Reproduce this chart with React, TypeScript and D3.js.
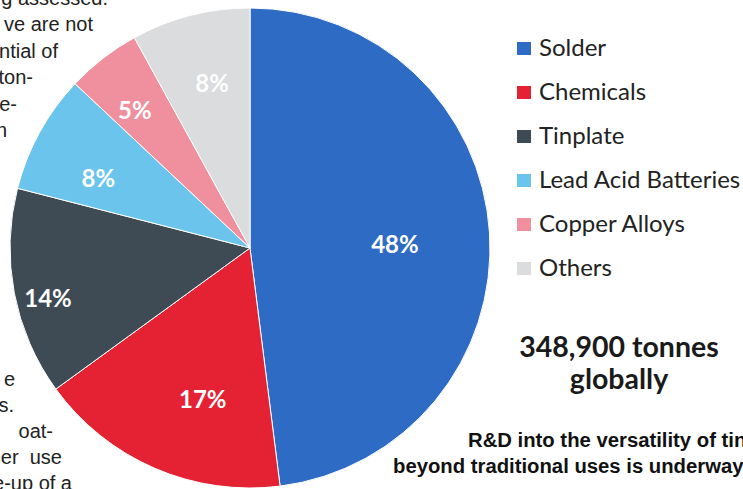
import React from "react";
import * as d3 from "d3";

const categories = ["Solder", "Chemicals", "Tinplate", "Lead Acid Batteries", "Copper Alloys", "Others"];
const shares = [48, 17, 14, 8, 5, 8];
const colors = ["#2D6BC5", "#E42233", "#3E4A54", "#6AC4EC", "#F0909E", "#DADCDD"];
// label placement tweaks (radius px, angle offset in degrees)
const labelRadius = [145, 158, 208, 167, 180, 170];
const labelAngleOffset = [2, -6, -3, -4, -2, 1.5];

const totalLines = ["348,900 tonnes", "globally"];
const footLines = ["R&D into the versatility of tin", "beyond traditional uses is underway"];
const leftTopLines = ["g assessed.", "ve are not", "ntial of", "ton-", "e-", "n"];
const leftBottomLines = ["e", "s.", "oat-", "er  use", "e-up of a"];
const leftTopEnds = [108, 93, 58, 33, 17, 7];
const leftBottomEnds = [15, 14, 53, 62, 72];

const W = 743;
const H = 489;

export default function App() {
  const cx = 250;
  const cy = 248;
  const r = 240;
  const pie = d3.pie<number>().value((d) => d).sort(null);
  const arcs = pie(shares);
  const arc = d3.arc<d3.PieArcDatum<number>>().innerRadius(0).outerRadius(r);

  const legendY = d3.scaleLinear().domain([0, categories.length - 1]).range([56, 276]);

  return (
    <svg
      width={W}
      height={H}
      style={{ position: "absolute", left: 0, top: 0, background: "#fff" }}
    >
      <rect width={W} height={H} fill="#fff" />
      {/* surrounding article text fragments */}
      <g fontFamily="'Liberation Sans', Arial, sans-serif" fontSize={20} fill="#222">
        {leftTopLines.map((t, i) => (
          <text key={"lt" + i} x={leftTopEnds[i]} y={5 + i * 26.4} textAnchor="end" style={{ whiteSpace: "pre" }}>
            {t}
          </text>
        ))}
        {leftBottomLines.map((t, i) => (
          <text key={"lb" + i} x={leftBottomEnds[i]} y={386 + i * 26} textAnchor="end" style={{ whiteSpace: "pre" }}>
            {t}
          </text>
        ))}
      </g>
      <g transform={`translate(${cx},${cy})`}>
        {arcs.map((a, i) => (
          <path key={i} d={arc(a) || ""} fill={colors[i]} stroke="#fff" strokeWidth={1} />
        ))}
        {arcs.map((a, i) => {
          const mid = (a.startAngle + a.endAngle) / 2 + (labelAngleOffset[i] * Math.PI) / 180;
          const lr = labelRadius[i];
          const x = lr * Math.sin(mid);
          const y = -lr * Math.cos(mid);
          return (
            <text
              key={"l" + i}
              x={x}
              y={y}
              textAnchor="middle"
              dominantBaseline="central"
              fontFamily="Lato, 'Open Sans', sans-serif"
              fontWeight="bold"
              fontSize={24}
              fill="#fff"
              opacity={i === 5 ? 0.95 : 1}
            >
              {shares[i]}%
            </text>
          );
        })}
      </g>
      {/* legend */}
      <g fontFamily="Lato, 'Open Sans', sans-serif" fontSize={24} fill="#222">
        {categories.map((c, i) => (
          <g key={c} transform={`translate(517,${legendY(i)})`}>
            <rect x={0} y={-14} width={14} height={13} fill={colors[i]} />
            <text x={22} y={0}>
              {c}
            </text>
          </g>
        ))}
      </g>
      <g fontFamily="Lato, 'Open Sans', sans-serif" fontWeight="bold" fontSize={28.5} fill="#1a1a1a" textAnchor="middle">
        {totalLines.map((t, i) => (
          <text key={t} x={619} y={357 + i * 32}>
            {t}
          </text>
        ))}
      </g>
      <g fontFamily="'Liberation Sans', Arial, sans-serif" fontWeight="bold" fontSize={20.3} fill="#111">
        <text x={468} y={447}>{footLines[0]}</text>
        <text x={393} y={473}>{footLines[1]}</text>
      </g>
    </svg>
  );
}
